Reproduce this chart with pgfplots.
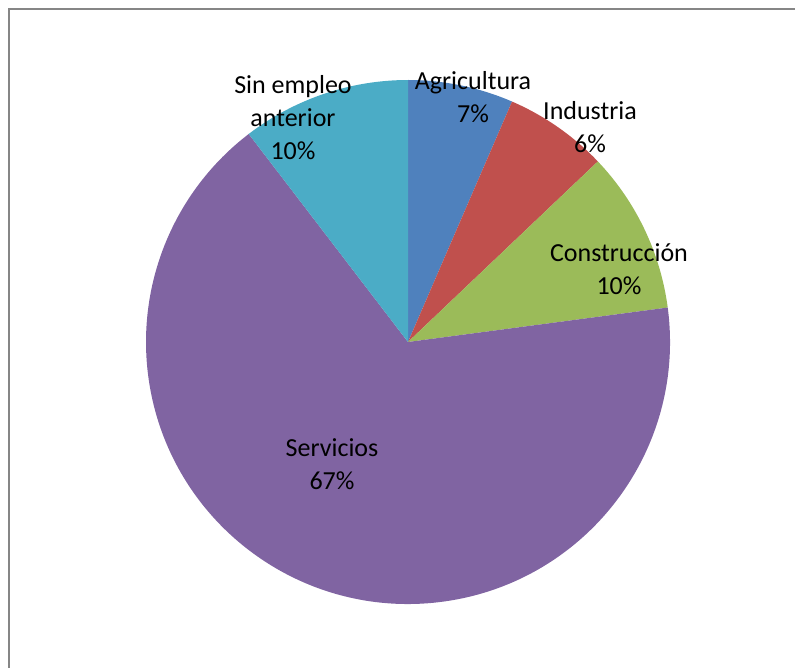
\documentclass[border=0pt]{standalone}
\usepackage{fontspec}
\setmainfont{Carlito}
\usepackage{pgfplots}
\usepackage{pgfplotstable}
\pgfplotsset{compat=1.18}
\definecolor{cagri}{HTML}{4F81BD}
\definecolor{cind}{HTML}{C0504D}
\definecolor{ccons}{HTML}{9BBB59}
\definecolor{cserv}{HTML}{8064A2}
\definecolor{csin}{HTML}{4BACC6}
\definecolor{cframe}{HTML}{868686}
\pgfplotstableread{
value color
6.5 cagri
6.4 cind
10.0 ccons
66.7 cserv
10.4 csin
}\piedata
\begin{document}
\begin{tikzpicture}
\begin{axis}[x=1bp,y=1bp,y dir=reverse,xmin=0,xmax=795,ymin=0,ymax=668,
  hide axis,clip=false,scale only axis]
\pgfplotstablegetrowsof{\piedata}
\pgfmathtruncatemacro\nrows{\pgfplotsretval-1}
\gdef\curang{90}
\pgfplotsforeachungrouped \i in {0,...,\nrows}{%
  \pgfplotstablegetelem{\i}{value}\of\piedata
  \pgfmathsetmacro\endang{\curang-3.6*\pgfplotsretval}%
  \pgfplotstablegetelem{\i}{color}\of\piedata
  \edef\docmd{\noexpand\fill[\pgfplotsretval] (axis cs:408,342) -- ++(\curang:262bp) arc[start angle=\curang, end angle=\endang, radius=262bp] -- cycle;}%
  \docmd
  \global\let\curang\endang
}
\draw[cframe,line width=2bp] (axis cs:8.5,668) -- (axis cs:8.5,9.5) -- (axis cs:795,9.5);
\tikzset{lbl/.style={align=center,inner sep=0pt,font=\fontsize{26bp}{33bp}\selectfont,text=black}}
\node[lbl] at (axis cs:473,97) {Agricultura\\7\%};
\node[lbl] at (axis cs:590,127) {Industria\\6\%};
\node[lbl] at (axis cs:619,269) {Construcción\\10\%};
\node[lbl] at (axis cs:332,464) {Servicios\\67\%};
\node[lbl] at (axis cs:293,118) {Sin empleo\\anterior\\10\%};
\end{axis}
\pgfresetboundingbox
\useasboundingbox (current axis.south west) rectangle (current axis.north east);
\end{tikzpicture}
\end{document}
